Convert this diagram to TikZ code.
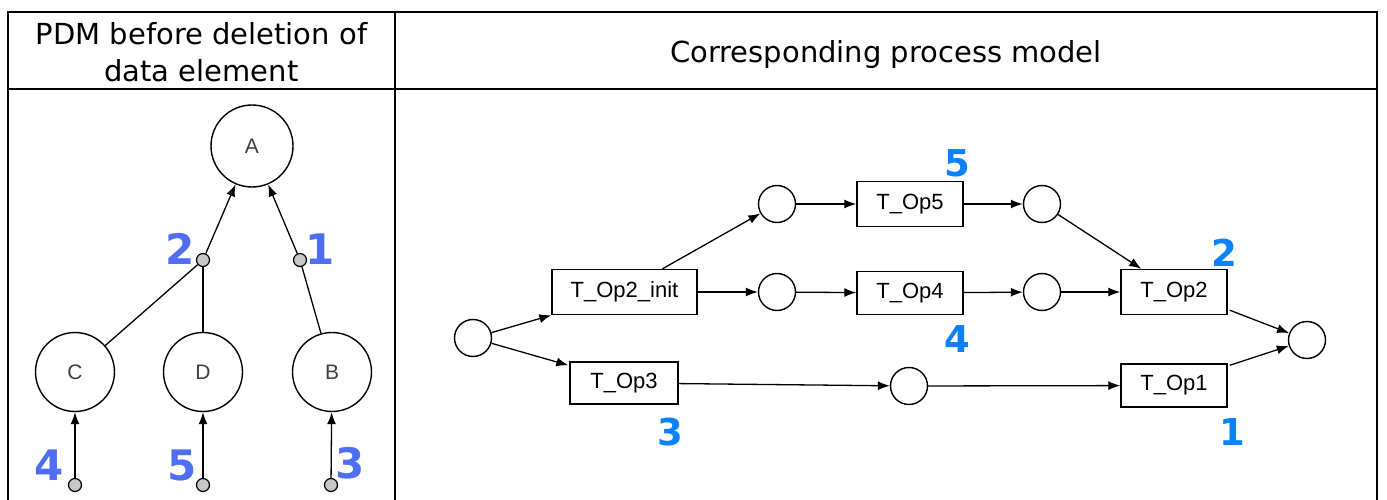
\documentclass[tikz,border=0pt]{standalone}
\usepackage{fontspec}
\setmainfont{DejaVu Sans}
\newfontfamily\labfont{Liberation Sans}
\usetikzlibrary{arrows.meta,calc}
\definecolor{numL}{RGB}{80,110,245}
\definecolor{numR}{RGB}{10,130,255}
\begin{document}
\begin{tikzpicture}[x=1pt,y=-1pt,
  tblborder/.style={line width=2pt},
  pnplace/.style={circle,draw,line width=1.4pt,minimum size=37pt,inner sep=0pt},
  dataelem/.style={circle,draw,line width=1.4pt,minimum size=79pt,inner sep=0pt,font=\labfont\fontsize{21}{24}\selectfont,text=black!75},
  junction/.style={circle,draw,fill=black!22,line width=1.2pt,minimum size=13pt,inner sep=0pt},
  transbox/.style={rectangle,draw,line width=1.4pt,inner sep=0pt,font=\labfont\fontsize{22}{26}\selectfont},
  flowarc/.style={line width=1.3pt,-{Latex[length=12pt,width=9pt]}},
  plainline/.style={line width=1.3pt},
  lnum/.style={font=\bfseries\fontsize{42}{42}\selectfont,text=numL,inner sep=0pt},
  rnum/.style={font=\bfseries\fontsize{37}{37}\selectfont,text=numR,inner sep=0pt},
  hdr/.style={font=\fontsize{29}{37}\selectfont,align=center,inner sep=0pt}
]
\useasboundingbox (0,0) rectangle (1387,500);
% table
\draw[tblborder] (8,503) -- (8,12) -- (1377,12) -- (1377,503);
\draw[tblborder] (8,89) -- (1377,89);
\draw[tblborder] (395,12) -- (395,503);
\node[hdr] (h1) at (201.5,52.5) {PDM before deletion of\\data element};
\node[hdr,anchor=base] (h2) at (886,62.7) {Corresponding process model};

% left: PDM
\node[dataelem,minimum size=82pt] (A) at (252,146) {A};
\node[dataelem] (C) at (75,372) {C};
\node[dataelem] (D) at (203,372) {D};
\node[dataelem] (B) at (332,372) {B};
\node[junction] (j2) at (203,260) {};
\node[junction] (j1) at (300,260) {};
\node[junction] (jc) at (75,485) {};
\node[junction] (jd) at (203,485) {};
\node[junction] (jb) at (331,485) {};
\draw[flowarc] (j2) -- (A);
\draw[flowarc] (j1) -- (A);
\draw[plainline] (C) -- (j2);
\draw[plainline] (D) -- (j2);
\draw[plainline] (B) -- (j1);
\draw[flowarc] (jc) -- (C);
\draw[flowarc] (jd) -- (D);
\draw[flowarc] (jb) -- (B);
\node[lnum] (n2l) at (180.5,249) {2};
\node[lnum] (n1l) at (320,249) {1};
\node[lnum] (n4l) at (49,465) {4};
\node[lnum] (n5l) at (182,465) {5};
\node[lnum] (n3l) at (350,463) {3};

% right: process model
\node[pnplace] (start) at (473,338) {};
\node[transbox,minimum width=145pt,minimum height=45pt] (tinit) at (624.5,292) {T\_Op2\_init};
\node[transbox,minimum width=108pt,minimum height=42pt] (t3) at (624,383) {T\_Op3};
\node[pnplace] (p1) at (777,204) {};
\node[pnplace] (p2) at (777,292) {};
\node[transbox,minimum width=106pt,minimum height=45pt] (t5) at (910,204) {T\_Op5};
\node[transbox,minimum width=106pt,minimum height=43pt] (t4) at (910,293) {T\_Op4};
\node[pnplace] (p3) at (1042,204) {};
\node[pnplace] (p4) at (1042,292) {};
\node[pnplace] (p5) at (909,386) {};
\node[transbox,minimum width=106pt,minimum height=45pt] (t2) at (1174,292) {T\_Op2};
\node[transbox,minimum width=106pt,minimum height=43pt] (t1) at (1174,385.5) {T\_Op1};
\node[pnplace] (pend) at (1307,340) {};

\draw[flowarc] (start) -- (tinit.south west);
\draw[flowarc] (start) -- ($(t3.north west)+(-1,4)$);
\draw[flowarc] ($(tinit.north)+(38,0)$) -- (p1);
\draw[flowarc] (tinit.east) -- (p2);
\draw[flowarc] (p1) -- (t5);
\draw[flowarc] (p2) -- (t4);
\draw[flowarc] (t3) -- (p5);
\draw[flowarc] (t5) -- (p3);
\draw[flowarc] (t4) -- (p4);
\draw[flowarc] (p5) -- (t1);
\draw[flowarc] (p3) -- ($(t2.north west)+(21,0)$);
\draw[flowarc] (p4) -- (t2);
\draw[flowarc] ($(t2.south east)+(2,-5)$) -- (pend);
\draw[flowarc] ($(t1.north east)+(2,2)$) -- (pend);

\node[rnum] (n5r) at (957,163.5) {5};
\node[rnum] (n4r) at (957.5,339) {4};
\node[rnum] (n2r) at (1224.5,252.5) {2};
\node[rnum] (n1r) at (1232,432) {1};
\node[rnum] (n3r) at (670.5,432) {3};
\end{tikzpicture}
\end{document}
